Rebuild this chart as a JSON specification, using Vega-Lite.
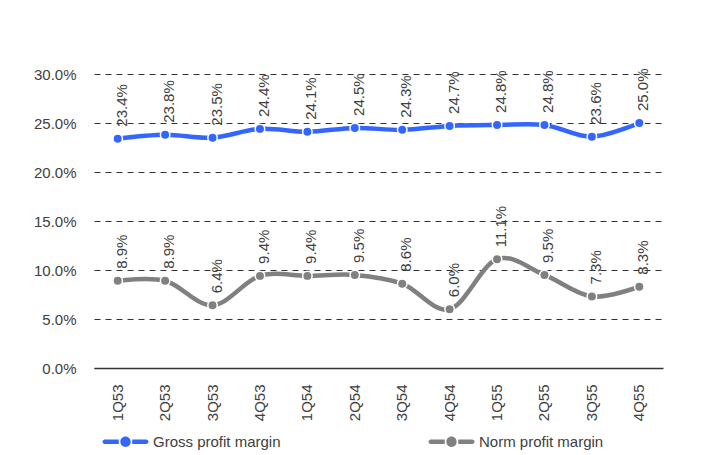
{
  "$schema": "https://vega.github.io/schema/vega-lite/v6.json",
  "width": 569,
  "height": 294,
  "autosize": {"type": "none"},
  "padding": {"left": 94, "top": 74, "right": 42, "bottom": 87},
  "background": "white",
  "config": {
    "view": {"stroke": null},
    "font": "Liberation Sans",
    "axis": {"labelFont": "Liberation Sans", "labelFontSize": 15, "labelColor": "#404040"}
  },
  "data": {
    "values": [
      {"quarter": "1Q53", "series": "Gross profit margin", "value": 0.234},
      {"quarter": "2Q53", "series": "Gross profit margin", "value": 0.238},
      {"quarter": "3Q53", "series": "Gross profit margin", "value": 0.235},
      {"quarter": "4Q53", "series": "Gross profit margin", "value": 0.244},
      {"quarter": "1Q54", "series": "Gross profit margin", "value": 0.241},
      {"quarter": "2Q54", "series": "Gross profit margin", "value": 0.245},
      {"quarter": "3Q54", "series": "Gross profit margin", "value": 0.243},
      {"quarter": "4Q54", "series": "Gross profit margin", "value": 0.247},
      {"quarter": "1Q55", "series": "Gross profit margin", "value": 0.248},
      {"quarter": "2Q55", "series": "Gross profit margin", "value": 0.248},
      {"quarter": "3Q55", "series": "Gross profit margin", "value": 0.236},
      {"quarter": "4Q55", "series": "Gross profit margin", "value": 0.250},
      {"quarter": "1Q53", "series": "Norm profit margin", "value": 0.089},
      {"quarter": "2Q53", "series": "Norm profit margin", "value": 0.089},
      {"quarter": "3Q53", "series": "Norm profit margin", "value": 0.064},
      {"quarter": "4Q53", "series": "Norm profit margin", "value": 0.094},
      {"quarter": "1Q54", "series": "Norm profit margin", "value": 0.094},
      {"quarter": "2Q54", "series": "Norm profit margin", "value": 0.095},
      {"quarter": "3Q54", "series": "Norm profit margin", "value": 0.086},
      {"quarter": "4Q54", "series": "Norm profit margin", "value": 0.060},
      {"quarter": "1Q55", "series": "Norm profit margin", "value": 0.111},
      {"quarter": "2Q55", "series": "Norm profit margin", "value": 0.095},
      {"quarter": "3Q55", "series": "Norm profit margin", "value": 0.073},
      {"quarter": "4Q55", "series": "Norm profit margin", "value": 0.083}
    ]
  },
  "encoding": {
    "x": {
      "field": "quarter",
      "type": "nominal",
      "sort": null,
      "scale": {"type": "band", "paddingInner": 0, "paddingOuter": 0},
      "axis": {
        "title": null,
        "labelAngle": 270,
        "labelAlign": "right",
        "labelBaseline": "middle",
        "labelPadding": 16,
        "ticks": false,
        "domain": true,
        "domainColor": "#333333",
        "domainWidth": 1.5,
        "grid": false
      }
    },
    "y": {
      "field": "value",
      "type": "quantitative",
      "scale": {"domain": [0, 0.3], "nice": false},
      "axis": {
        "title": null,
        "format": ".1%",
        "values": [0, 0.05, 0.1, 0.15, 0.2, 0.25, 0.3],
        "ticks": false,
        "domain": false,
        "labelPadding": 18,
        "grid": true,
        "gridColor": "#333333",
        "gridDash": [6, 5],
        "gridWidth": 1
      }
    },
    "color": {
      "field": "series",
      "type": "nominal",
      "scale": {"domain": ["Gross profit margin", "Norm profit margin"], "range": ["#3366ff", "#808080"]},
      "legend": {
        "title": null,
        "orient": "none",
        "legendX": 9,
        "legendY": 345,
        "direction": "horizontal",
        "padding": 0,
        "columnPadding": 147,
        "labelFont": "Liberation Sans",
        "labelFontSize": 15,
        "labelColor": "#404040",
        "labelOffset": 5,
        "symbolSize": 2025,
        "symbolStrokeWidth": 0,
        "symbolType": "M-0.92,-0.1 H-0.3 V0.1 H-0.92 A0.1,0.1 0 0,1 -0.92,-0.1 Z M0.3,-0.1 H0.92 A0.1,0.1 0 0,1 0.92,0.1 H0.3 Z M0.23,0 A0.23,0.23 0 1,1 -0.23,0 A0.23,0.23 0 1,1 0.23,0 Z",
        "encode": {"symbols": {"update": {"fill": {"scale": "color", "field": "value"}, "strokeWidth": {"value": 0}, "opacity": {"value": 1}}}}
      }
    }
  },
  "layer": [
    {
      "mark": {"type": "line", "interpolate": "cardinal", "strokeWidth": 4.5, "strokeCap": "round"}
    },
    {
      "mark": {"type": "point", "filled": true, "size": 90, "opacity": 1, "stroke": "white", "strokeWidth": 1.5}
    },
    {
      "mark": {"type": "text", "angle": 270, "align": "left", "baseline": "middle", "dx": 12, "dy": 4, "fontSize": 15, "color": "#404040", "font": "Liberation Sans"},
      "encoding": {
        "text": {"field": "value", "type": "quantitative", "format": ".1%"},
        "color": {"value": "#404040"}
      }
    }
  ]
}
